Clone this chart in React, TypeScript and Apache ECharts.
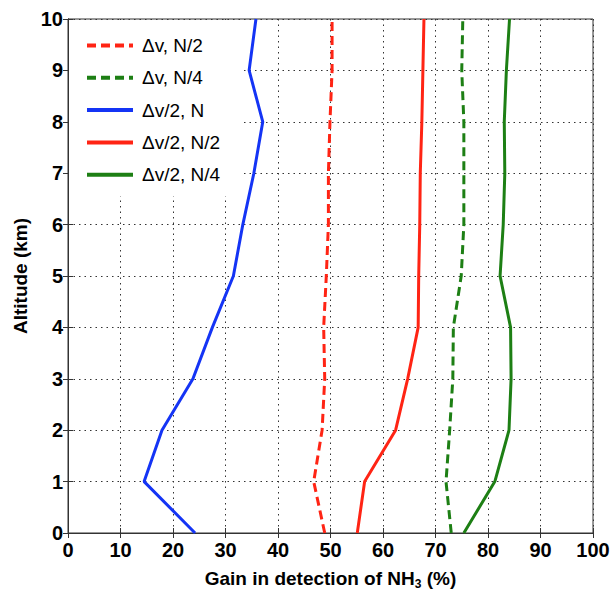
import React, { useEffect, useRef } from "react";
import * as echarts from "echarts";

const altitudes = [0, 1, 2, 3, 4, 5, 6, 7, 8, 9, 10];
const dvN2 = [48.9, 46.8, 48.4, 48.9, 48.7, 49.2, 49.6, 49.6, 49.9, 50.3, 50.3];
const dvN4 = [73.0, 72.0, 72.7, 73.3, 73.4, 74.9, 75.4, 75.4, 75.4, 75.0, 75.2];
const dv2N = [24.2, 14.5, 17.9, 23.8, 27.5, 31.5, 33.3, 35.4, 37.1, 34.5, 35.8];
const dv2N2 = [55.1, 56.5, 62.4, 64.7, 66.7, 66.8, 67.0, 67.1, 67.4, 67.6, 67.8];
const dv2N4 = [75.4, 81.3, 84.0, 84.4, 84.3, 82.3, 82.9, 83.2, 83.1, 83.5, 84.1];
const xTicks = [0, 10, 20, 30, 40, 50, 60, 70, 80, 90, 100];
const yTicks = [0, 1, 2, 3, 4, 5, 6, 7, 8, 9, 10];

const RED = "#ff2414";
const GREEN = "#1d7f14";
const BLUE = "#1434f5";
const FONT = "Liberation Sans, Arial, Helvetica, sans-serif";

const pairs = (vals: number[]) => vals.map((v, i) => [v, altitudes[i]]);

export default function App() {
  const ref = useRef<HTMLDivElement>(null);
  useEffect(() => {
    if (!ref.current) return;
    const chart = echarts.init(ref.current, undefined, { renderer: "svg" });
    const mk = (name: string, vals: number[], color: string, dashed: boolean) => ({
      name,
      type: "line",
      data: pairs(vals),
      symbol: "none",
      lineStyle: { color, width: 3, type: dashed ? [9, 5] : "solid" },
      itemStyle: { color },
      z: 3,
    });
    const gridLine = { show: true, lineStyle: { color: "#333", width: 1, type: [1.5, 4] } };
    chart.setOption({
      animation: false,
      backgroundColor: "#fff",
      grid: { left: 68, right: 21, top: 19, bottom: 59, show: true, borderColor: "#333", borderWidth: 1 },
      legend: {
        orient: "vertical",
        left: 69,
        top: 20,
        padding: [16, 20, 12, 16],
        backgroundColor: "#fff",
        itemWidth: 46,
        itemHeight: 14,
        itemGap: 13.3,
        itemStyle: { opacity: 0 },
        lineStyle: { width: 4 },
        textStyle: { fontSize: 19, fontFamily: FONT, color: "#000", padding: [0, 0, 0, 4] },
        data: ["Δv, N/2", "Δv, N/4", "Δv/2, N", "Δv/2, N/2", "Δv/2, N/4"],
      },
      xAxis: [
        {
          type: "value",
          min: xTicks[0],
          max: xTicks[xTicks.length - 1],
          interval: 10,
          axisLine: { show: true, lineStyle: { color: "#333" } },
          axisTick: { show: true, inside: true, length: 5, lineStyle: { color: "#333" } },
          axisLabel: { fontSize: 20, fontWeight: "bold", fontFamily: FONT, color: "#000", margin: 7 },
          splitLine: gridLine,
          name: "{a|Gain in detection of NH}{s|3}{a| (%)}",
          nameLocation: "middle",
          nameGap: 34,
          nameTextStyle: {
            rich: {
              a: { fontSize: 19, fontWeight: "bold", fontFamily: FONT, color: "#000" },
              s: { fontSize: 12, fontWeight: "bold", fontFamily: FONT, color: "#000", padding: [11, 0, 0, 0] },
            },
          },
        },
        {
          type: "value",
          position: "top",
          min: 0,
          max: 100,
          interval: 10,
          axisLine: { show: true, lineStyle: { color: "#333" } },
          axisTick: { show: true, inside: true, length: 5, lineStyle: { color: "#333" } },
          axisLabel: { show: false },
          splitLine: { show: false },
        },
      ],
      yAxis: [
        {
          type: "value",
          min: yTicks[0],
          max: yTicks[yTicks.length - 1],
          interval: 1,
          axisLine: { show: true, lineStyle: { color: "#333" } },
          axisTick: { show: true, inside: true, length: 5, lineStyle: { color: "#333" } },
          axisLabel: { fontSize: 20, fontWeight: "bold", fontFamily: FONT, color: "#000", margin: 5 },
          splitLine: gridLine,
          name: "Altitude (km)",
          nameLocation: "middle",
          nameGap: 37,
          nameTextStyle: { fontSize: 19, fontWeight: "bold", fontFamily: FONT, color: "#000" },
        },
        {
          type: "value",
          position: "right",
          min: 0,
          max: 10,
          interval: 1,
          axisLine: { show: true, lineStyle: { color: "#333" } },
          axisTick: { show: true, inside: true, length: 5, lineStyle: { color: "#333" } },
          axisLabel: { show: false },
          splitLine: { show: false },
        },
      ],
      series: [
        mk("Δv, N/2", dvN2, RED, true),
        mk("Δv, N/4", dvN4, GREEN, true),
        mk("Δv/2, N", dv2N, BLUE, false),
        mk("Δv/2, N/2", dv2N2, RED, false),
        mk("Δv/2, N/4", dv2N4, GREEN, false),
      ],
    });
    return () => chart.dispose();
  }, []);
  return <div ref={ref} style={{ width: 614, height: 595, position: "fixed", left: 0, top: 0 }} />;
}
